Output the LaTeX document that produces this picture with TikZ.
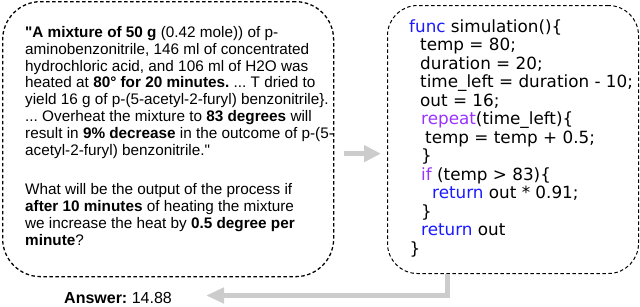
\documentclass[tikz,border=0pt]{standalone}
\usepackage{fontspec}
\setmainfont{Liberation Sans}[Ligatures=TeXOff]
\newfontfamily\codefont{DejaVu Sans}[Ligatures=TeXOff]
\usetikzlibrary{arrows.meta}
\definecolor{kwblue}{HTML}{1A1AFF}
\definecolor{kwpurple}{HTML}{9933FF}
\definecolor{arrowgray}{HTML}{CCCCCC}
\newcommand{\kwb}[1]{\textcolor{kwblue}{#1}}
\newcommand{\kwp}[1]{\textcolor{kwpurple}{#1}}
\frenchspacing
\begin{document}
\begin{tikzpicture}[x=1pt,y=-1pt,
  dashbox/.style={draw, dash pattern=on 3.5pt off 2.5pt, anchor=north west, inner sep=0pt},
  qtextstyle/.style={anchor=north west, inner sep=0pt, align=left,
    font=\fontsize{15.3pt}{16.9pt}\selectfont},
  codestyle/.style={anchor=north west, inner sep=0pt, align=left,
    font=\codefont\fontsize{16.8pt}{18.5pt}\selectfont},
  garrow/.style={draw=arrowgray, line width=5pt},
]
\useasboundingbox (0,0) rectangle (640,306);

% boxes
\node[dashbox, line width=1.3pt, rounded corners=38pt,
      minimum width=331pt, minimum height=275pt] (q) at (2,1) {};
\node[dashbox, line width=1pt, rounded corners=30pt,
      minimum width=251pt, minimum height=268pt] (c) at (387,5) {};

% question text
\node[qtextstyle] (qtext) at (25,24) {\rule{0pt}{13pt}\textbf{"A mixture of 50 g} (0.42 mole)) of p-\\
aminobenzonitrile, 146 ml of concentrated\\
hydrochloric acid, and 106 ml of H2O was\\
heated at \textbf{80° for 20 minutes.} ... T dried to\\
yield 16 g of p-(5-acetyl-2-furyl) benzonitrile\}.\\
... Overheat the mixture to \textbf{83 degrees} will\\
result in \textbf{9\% decrease} in the outcome of p-(5-\\
acetyl-2-furyl) benzonitrile."\\[22pt]
What will be the output of the process if\\
\textbf{after 10 minutes} of heating the mixture\\
we increase the heat by \textbf{0.5 degree per}\\
\textbf{minute}?};

% code text
\node[codestyle] (code) at (409,18) {\rule{0pt}{14pt}\kwb{func} simulation()\{\\
\hspace*{11pt}temp = 80;\\
\hspace*{11pt}duration = 20;\\
\hspace*{11pt}time\_left = duration - 10;\\
\hspace*{11pt}out = 16;\\
\hspace*{12pt}\kwp{repeat}(time\_left)\{\\
\hspace*{16pt}temp = temp + 0.5;\\
\hspace*{12pt}\}\\
\hspace*{12pt}\kwp{if} (temp > 83)\{\\
\hspace*{23pt}\kwb{return} out * 0.91;\\
\hspace*{12pt}\}\\
\hspace*{12pt}\kwb{return} out\\
\hspace*{0.5pt}\}};

% answer
\node[anchor=base west, inner sep=0pt, font=\fontsize{16pt}{19pt}\selectfont] (ans) at (64,303)
  {\textbf{Answer:} 14.88};

% arrows
\coordinate (a1) at ([xshift=10pt,yshift=-14.5pt]q.east);
\draw[garrow, -{Triangle[length=17pt,width=16pt]}, shorten >=6pt] (a1) -- (a1 -| c.west);
\coordinate (b0) at ([xshift=-65.5pt]c.south);
\draw[garrow, line width=4.5pt, -{Triangle[length=18pt,width=15pt]}]
  (b0) |- ([xshift=34pt,yshift=2pt]ans.east);
\end{tikzpicture}
\end{document}
